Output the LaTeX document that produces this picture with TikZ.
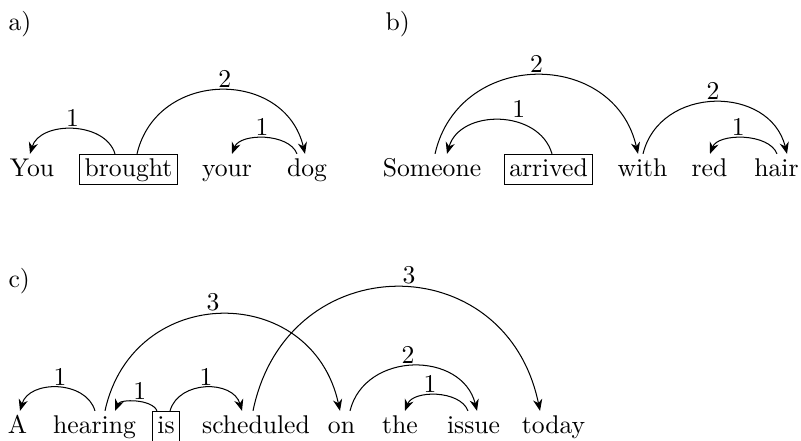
\documentclass[tikz,border=0pt]{standalone}
\usetikzlibrary{arrows.meta,calc}
\begin{document}
\begin{tikzpicture}[x=0.39pt,y=-0.39pt,
  word/.style={anchor=base, inner xsep=2pt, inner ysep=1.5pt, text height=6.94pt, text depth=1.94pt},
  headword/.style={word, draw, line width=0.4pt},
  dep/.style={line width=0.4pt, -{Stealth[length=4.5pt,width=3.6pt]}},
  lab/.style={above, inner sep=0.8pt},
  tag/.style={anchor=base west, inner sep=0pt}]
\useasboundingbox (0,0) rectangle (801,440);
% ---- a)
\node[tag] (la) at (8,30) {a)};
\node[word] (you) at (32,176) {You};
\node[headword] (brought) at (128.5,176) {brought};
\node[word] (your) at (227,176) {your};
\node[word] (dog) at (307,176) {dog};
\draw[dep] ($(brought.north)+(-13.5,0)$) .. controls +(-10,-33) and +(10,-33) .. ($(you.north)+(-2,0)$) node[midway,lab] {1};
\draw[dep] ($(brought.north)+(8.5,0)$) .. controls +(20,-85) and +(-20,-85) .. ($(dog.north)+(-2,0)$) node[midway,lab,xshift=1.5pt] {2};
\draw[dep] ($(dog.north)+(-10,0)$) .. controls +(-8,-21) and +(8,-21) .. ($(your.north)+(5,0)$) node[midway,lab,xshift=-1pt] {1};
% ---- b)
\node[tag] (lb) at (385,30) {b)};
\node[word] (someone) at (432,176) {Someone};
\node[headword] (arrived) at (548.5,176) {arrived};
\node[word] (with) at (642.5,176) {with};
\node[word] (red) at (709.5,176) {red};
\node[word] (hair) at (776.5,176) {hair};
\draw[dep] ($(someone.north)+(3,0)$) .. controls +(24,-105) and +(-24,-105) .. ($(with.north)+(-4.5,0)$) node[midway,lab] {2};
\draw[dep] ($(arrived.north)+(3.5,0)$) .. controls +(-13,-45) and +(13,-45) .. ($(someone.north)+(15,0)$) node[midway,lab,xshift=7.5pt] {1};
\draw[dep] ($(with.north)+(0.5,0)$) .. controls +(17,-69) and +(-17,-69) .. ($(hair.north)+(10.5,0)$) node[midway,lab,xshift=-0.8pt] {2};
\draw[dep] ($(hair.north)+(0.5,0)$) .. controls +(-8,-21) and +(8,-21) .. ($(red.north)+(0.5,0)$) node[midway,lab,xshift=-2pt] {1};
% ---- c)
\node[tag] (lc) at (8,287) {c)};
\node[word] (A) at (17.5,433) {A};
\node[word] (hearing) at (94.5,433) {hearing};
\node[headword] (is) at (166,433) {is};
\node[word] (scheduled) at (256,433) {scheduled};
\node[word] (on) at (341.5,433) {on};
\node[word] (the) at (400,433) {the};
\node[word] (issue) at (473.5,433) {issue};
\node[word] (today) at (553.5,433) {today};
\draw[dep] ($(hearing.north)+(0.5,0)$) .. controls +(-9,-31) and +(9,-31) .. ($(A.north)+(2.5,0)$) node[midway,lab,xshift=1pt] {1};
\draw[dep] ($(is.north)+(-9,0)$) .. controls +(-5,-12) and +(5,-12) .. ($(hearing.north)+(20.5,0)$) node[midway,lab,xshift=1.5pt] {1};
\draw[dep] ($(is.north)+(4,0)$) .. controls +(9,-31) and +(-9,-31) .. ($(scheduled.north)+(-14,0)$) node[midway,lab] {1};
\draw[dep] ($(hearing.north)+(10.5,0)$) .. controls +(28,-129) and +(-28,-129) .. ($(on.north)+(-1.5,0)$) node[midway,lab,xshift=-3.7pt] {3};
\draw[dep] ($(scheduled.north)+(-3,0)$) .. controls +(34,-165) and +(-34,-165) .. ($(today.north)+(-13.5,0)$) node[midway,lab,xshift=4.9pt] {3};
\draw[dep] ($(on.north)+(8.5,0)$) .. controls +(15,-60) and +(-15,-60) .. ($(issue.north)+(3.5,0)$) node[midway,lab,xshift=-2.1pt] {2};
\draw[dep] ($(issue.north)+(-5.5,0)$) .. controls +(-8,-21) and +(8,-21) .. ($(the.north)+(5,0)$) node[midway,lab,xshift=-2.5pt] {1};
\end{tikzpicture}
\end{document}
